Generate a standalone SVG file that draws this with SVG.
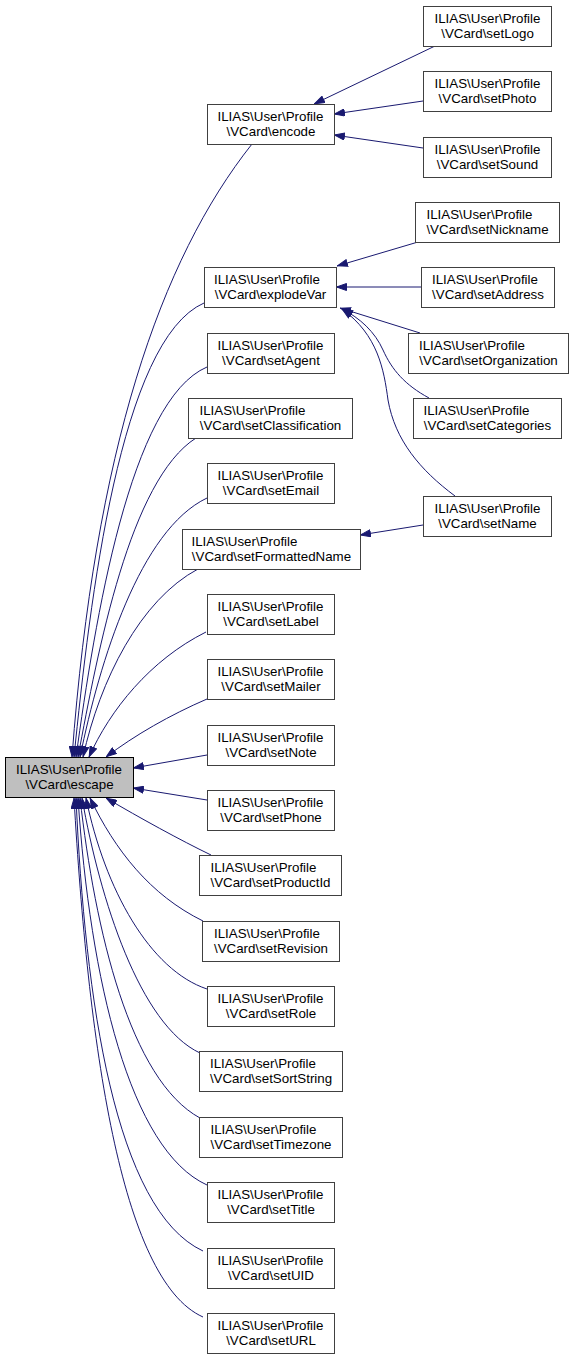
<svg xmlns="http://www.w3.org/2000/svg" width="572" height="1359" viewBox="0 0 572 1359">
<style>
.n rect{fill:#ffffff;stroke:#404040;stroke-width:1}
.root rect{fill:#bfbfbf;stroke:#000000;stroke-width:1}
text{font-family:"Liberation Sans",Arial,Helvetica,sans-serif;font-size:13.33px;fill:#000000}
.l1{text-anchor:start}
.l2{text-anchor:middle}
#edges path{fill:none;stroke:#191970;stroke-width:1;marker-end:url(#ah)}
</style>
<defs>
<marker id="ah" viewBox="0 0 11 8" markerWidth="11" markerHeight="8" refX="11" refY="4" orient="auto" markerUnits="userSpaceOnUse">
<path d="M0.5,0.5 L10.5,4 L0.5,7.5 Z" fill="#191970" stroke="#191970" stroke-width="1"/>
</marker>
</defs>
<rect x="0" y="0" width="572" height="1359" fill="#ffffff"/>
<g id="edges">
<path d="M252,144 C160,260 95,450 72,757"/>
<path d="M204,303 C120,340 90,600 74,757"/>
<path d="M207,367 C130,400 95,620 76,757"/>
<path d="M196,438 C130,480 98,650 78,757"/>
<path d="M207,498 C140,530 100,660 80,757"/>
<path d="M198,569 C140,600 100,680 83,757"/>
<path d="M206,632 C150,660 110,710 89,757"/>
<path d="M207,699 C170,715 135,735 106,757"/>
<path d="M207,755 L133,768"/>
<path d="M207,800 L133,788"/>
<path d="M211,855 C180,840 140,818 106,798"/>
<path d="M203,921 C150,895 115,850 90,798"/>
<path d="M207,989 C150,970 105,890 86,798"/>
<path d="M200,1053 C140,1025 100,900 82,798"/>
<path d="M200,1118 C130,1080 95,930 80,798"/>
<path d="M207,1185 C130,1150 90,980 78,798"/>
<path d="M203,1251 C115,1210 85,1000 76,798"/>
<path d="M203,1317 C120,1280 88,1040 74,798"/>
<path d="M435,46 L314,104"/>
<path d="M423,101 L334,114"/>
<path d="M423,148 L334,135"/>
<path d="M418,242 L337,266"/>
<path d="M421,287 L336,287"/>
<path d="M420,333 L340,308"/>
<path d="M429,398 C405,385 392,370 383,350 C375,332 360,318 342,309"/>
<path d="M455,496 C420,470 395,440 388,400 C384,370 378,335 342,309"/>
<path d="M423,525 L360,535"/>
</g>
<g id="escape" class="root"><rect x="5.5" y="757.5" width="128" height="40"/><text><tspan class="l1" x="16" y="773.5">ILIAS\User\Profile</tspan><tspan class="l2" x="69.5" y="788.5">\VCard\escape</tspan></text></g>
<g id="encode" class="n"><rect x="207.5" y="104.5" width="127" height="40"/><text><tspan class="l1" x="217.5" y="120.5">ILIAS\User\Profile</tspan><tspan class="l2" x="271" y="135.5">\VCard\encode</tspan></text></g>
<g id="explodeVar" class="n"><rect x="204.5" y="267.5" width="132" height="40"/><text><tspan class="l1" x="214" y="283.5">ILIAS\User\Profile</tspan><tspan class="l2" x="270.5" y="298.5">\VCard\explodeVar</tspan></text></g>
<g id="setAgent" class="n"><rect x="207.5" y="333.5" width="127" height="40"/><text><tspan class="l1" x="217.5" y="349.5">ILIAS\User\Profile</tspan><tspan class="l2" x="271" y="364.5">\VCard\setAgent</tspan></text></g>
<g id="setClassification" class="n"><rect x="188.5" y="398.5" width="164" height="40"/><text><tspan class="l1" x="199.5" y="414.5">ILIAS\User\Profile</tspan><tspan class="l2" x="270.5" y="429.5">\VCard\setClassification</tspan></text></g>
<g id="setEmail" class="n"><rect x="207.5" y="463.5" width="127" height="40"/><text><tspan class="l1" x="217.5" y="479.5">ILIAS\User\Profile</tspan><tspan class="l2" x="271" y="494.5">\VCard\setEmail</tspan></text></g>
<g id="setFormattedName" class="n"><rect x="182.5" y="529.5" width="178" height="40"/><text><tspan class="l1" x="191.5" y="545.5">ILIAS\User\Profile</tspan><tspan class="l2" x="271.5" y="560.5">\VCard\setFormattedName</tspan></text></g>
<g id="setLabel" class="n"><rect x="207.5" y="594.5" width="127" height="40"/><text><tspan class="l1" x="217.5" y="610.5">ILIAS\User\Profile</tspan><tspan class="l2" x="271" y="625.5">\VCard\setLabel</tspan></text></g>
<g id="setMailer" class="n"><rect x="207.5" y="659.5" width="127" height="40"/><text><tspan class="l1" x="217.5" y="675.5">ILIAS\User\Profile</tspan><tspan class="l2" x="271" y="690.5">\VCard\setMailer</tspan></text></g>
<g id="setNote" class="n"><rect x="207.5" y="725.5" width="127" height="40"/><text><tspan class="l1" x="217.5" y="741.5">ILIAS\User\Profile</tspan><tspan class="l2" x="271" y="756.5">\VCard\setNote</tspan></text></g>
<g id="setPhone" class="n"><rect x="207.5" y="790.5" width="127" height="40"/><text><tspan class="l1" x="217.5" y="806.5">ILIAS\User\Profile</tspan><tspan class="l2" x="271" y="821.5">\VCard\setPhone</tspan></text></g>
<g id="setProductId" class="n"><rect x="199.5" y="855.5" width="142" height="40"/><text><tspan class="l1" x="210.5" y="871.5">ILIAS\User\Profile</tspan><tspan class="l2" x="270.5" y="886.5">\VCard\setProductId</tspan></text></g>
<g id="setRevision" class="n"><rect x="202.5" y="921.5" width="137" height="40"/><text><tspan class="l1" x="214" y="937.5">ILIAS\User\Profile</tspan><tspan class="l2" x="271" y="952.5">\VCard\setRevision</tspan></text></g>
<g id="setRole" class="n"><rect x="207.5" y="986.5" width="127" height="40"/><text><tspan class="l1" x="217.5" y="1002.5">ILIAS\User\Profile</tspan><tspan class="l2" x="271" y="1017.5">\VCard\setRole</tspan></text></g>
<g id="setSortString" class="n"><rect x="199.5" y="1051.5" width="143" height="40"/><text><tspan class="l1" x="210" y="1067.5">ILIAS\User\Profile</tspan><tspan class="l2" x="271" y="1082.5">\VCard\setSortString</tspan></text></g>
<g id="setTimezone" class="n"><rect x="199.5" y="1117.5" width="143" height="40"/><text><tspan class="l1" x="210.5" y="1133.5">ILIAS\User\Profile</tspan><tspan class="l2" x="271" y="1148.5">\VCard\setTimezone</tspan></text></g>
<g id="setTitle" class="n"><rect x="207.5" y="1182.5" width="127" height="40"/><text><tspan class="l1" x="217.5" y="1198.5">ILIAS\User\Profile</tspan><tspan class="l2" x="271" y="1213.5">\VCard\setTitle</tspan></text></g>
<g id="setUID" class="n"><rect x="207.5" y="1248.5" width="127" height="40"/><text><tspan class="l1" x="217.5" y="1264.5">ILIAS\User\Profile</tspan><tspan class="l2" x="271" y="1279.5">\VCard\setUID</tspan></text></g>
<g id="setURL" class="n"><rect x="207.5" y="1313.5" width="127" height="40"/><text><tspan class="l1" x="217.5" y="1329.5">ILIAS\User\Profile</tspan><tspan class="l2" x="271" y="1344.5">\VCard\setURL</tspan></text></g>
<g id="setLogo" class="n"><rect x="423.5" y="6.5" width="128" height="40"/><text><tspan class="l1" x="434.5" y="22.5">ILIAS\User\Profile</tspan><tspan class="l2" x="487.5" y="37.5">\VCard\setLogo</tspan></text></g>
<g id="setPhoto" class="n"><rect x="423.5" y="71.5" width="128" height="40"/><text><tspan class="l1" x="434.5" y="87.5">ILIAS\User\Profile</tspan><tspan class="l2" x="487.5" y="102.5">\VCard\setPhoto</tspan></text></g>
<g id="setSound" class="n"><rect x="423.5" y="137.5" width="128" height="40"/><text><tspan class="l1" x="434.5" y="153.5">ILIAS\User\Profile</tspan><tspan class="l2" x="487.5" y="168.5">\VCard\setSound</tspan></text></g>
<g id="setNickname" class="n"><rect x="415.5" y="202.5" width="144" height="40"/><text><tspan class="l1" x="426.5" y="218.5">ILIAS\User\Profile</tspan><tspan class="l2" x="487.5" y="233.5">\VCard\setNickname</tspan></text></g>
<g id="setAddress" class="n"><rect x="421.5" y="267.5" width="133" height="40"/><text><tspan class="l1" x="432" y="283.5">ILIAS\User\Profile</tspan><tspan class="l2" x="488" y="298.5">\VCard\setAddress</tspan></text></g>
<g id="setOrganization" class="n"><rect x="408.5" y="333.5" width="160" height="40"/><text><tspan class="l1" x="419" y="349.5">ILIAS\User\Profile</tspan><tspan class="l2" x="488.5" y="364.5">\VCard\setOrganization</tspan></text></g>
<g id="setCategories" class="n"><rect x="413.5" y="398.5" width="148" height="40"/><text><tspan class="l1" x="423.5" y="414.5">ILIAS\User\Profile</tspan><tspan class="l2" x="487.5" y="429.5">\VCard\setCategories</tspan></text></g>
<g id="setName" class="n"><rect x="423.5" y="496.5" width="128" height="40"/><text><tspan class="l1" x="434.5" y="512.5">ILIAS\User\Profile</tspan><tspan class="l2" x="487.5" y="527.5">\VCard\setName</tspan></text></g>
</svg>
